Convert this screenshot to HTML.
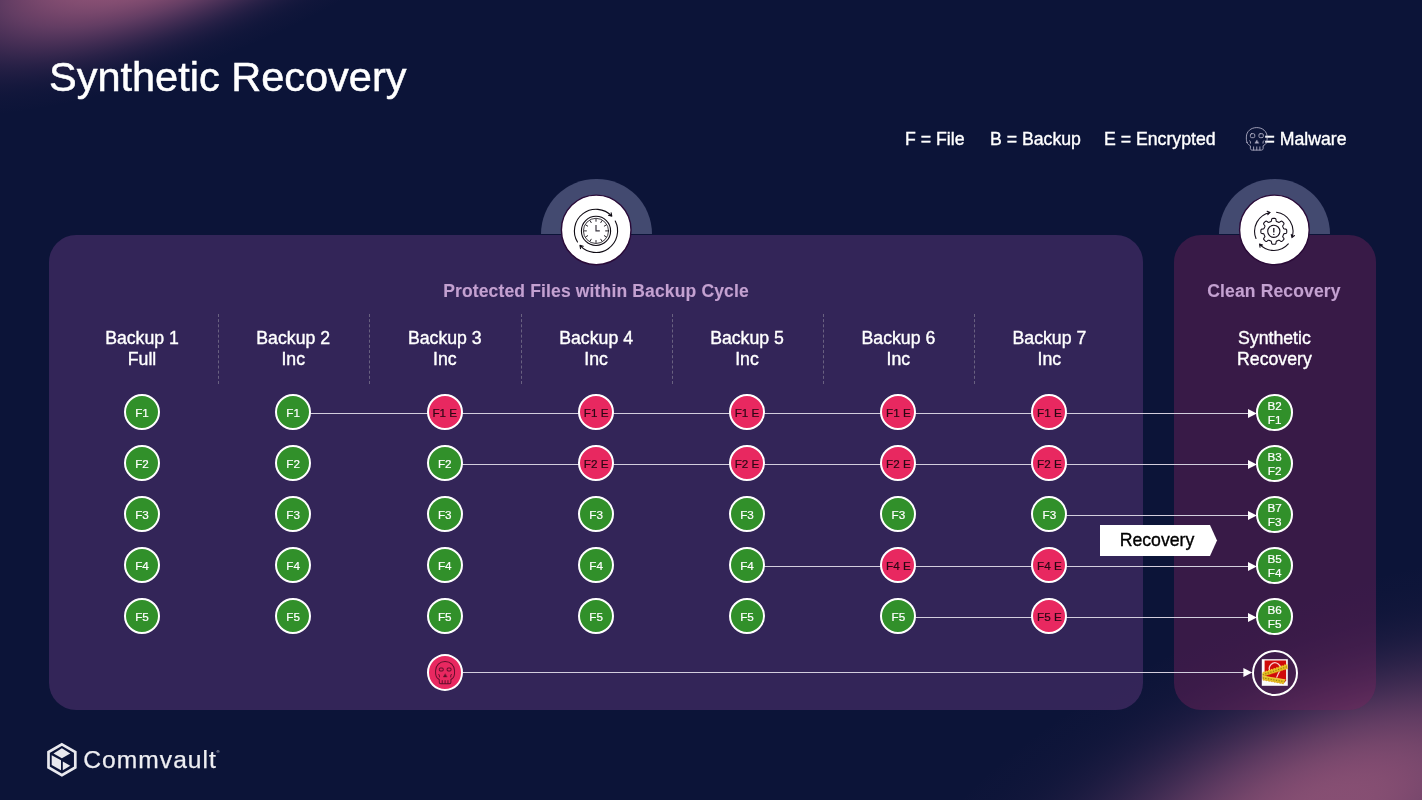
<!DOCTYPE html><html lang="en"><head><meta charset="utf-8"><title>Synthetic Recovery</title><style>
*{box-sizing:border-box;margin:0;padding:0}
html,body{width:1422px;height:800px;overflow:hidden}
body{position:relative;background:#0c1438;-webkit-text-stroke:.38px currentColor;font-family:"Liberation Sans",sans-serif;color:#fff}
.abs{position:absolute}
.glow{position:absolute;border-radius:50%;pointer-events:none}
#g1{left:-188.8px;top:-189.4px;width:732.8px;height:254.1px;transform:rotate(-21.5deg);background:radial-gradient(closest-side,rgba(137,80,116,1.000) 0.0%,rgba(137,80,116,1.000) 4.2%,rgba(137,80,116,1.000) 8.3%,rgba(137,80,116,1.000) 12.5%,rgba(137,80,116,1.000) 16.7%,rgba(137,80,116,1.000) 20.8%,rgba(137,80,116,1.000) 25.0%,rgba(137,80,116,1.000) 29.2%,rgba(137,80,116,1.000) 33.3%,rgba(137,80,116,0.943) 37.5%,rgba(136,79,116,0.874) 41.7%,rgba(136,78,116,0.794) 45.8%,rgba(135,78,117,0.704) 50.0%,rgba(134,77,117,0.608) 54.2%,rgba(134,76,117,0.510) 58.3%,rgba(133,75,117,0.414) 62.5%,rgba(132,75,117,0.324) 66.7%,rgba(132,74,118,0.244) 70.8%,rgba(131,73,118,0.176) 75.0%,rgba(131,73,118,0.121) 79.2%,rgba(131,73,118,0.079) 83.3%,rgba(130,72,118,0.049) 87.5%,rgba(130,72,118,0.029) 91.7%,rgba(130,72,118,0.016) 95.8%,rgba(130,72,118,0.000) 100.0%)}
#g2{left:852.5px;top:602.4px;width:953.8px;height:411.9px;transform:rotate(-21.5deg);background:radial-gradient(closest-side,rgba(137,80,116,0.984) 0.0%,rgba(137,80,116,0.982) 4.2%,rgba(137,80,116,0.975) 8.3%,rgba(137,80,116,0.958) 12.5%,rgba(137,79,116,0.931) 16.7%,rgba(136,79,116,0.894) 20.8%,rgba(136,79,116,0.845) 25.0%,rgba(135,78,116,0.786) 29.2%,rgba(135,78,117,0.718) 33.3%,rgba(135,77,117,0.643) 37.5%,rgba(134,77,117,0.565) 41.7%,rgba(133,76,117,0.486) 45.8%,rgba(133,75,117,0.409) 50.0%,rgba(132,75,117,0.336) 54.2%,rgba(132,74,117,0.269) 58.3%,rgba(131,74,118,0.210) 62.5%,rgba(131,73,118,0.160) 66.7%,rgba(131,73,118,0.118) 70.8%,rgba(131,73,118,0.085) 75.0%,rgba(130,72,118,0.060) 79.2%,rgba(130,72,118,0.040) 83.3%,rgba(130,72,118,0.027) 87.5%,rgba(130,72,118,0.017) 91.7%,rgba(130,72,118,0.010) 95.8%,rgba(130,72,118,0.000) 100.0%)}
h1{position:absolute;left:49px;top:52.5px;-webkit-text-stroke:.5px #fff;font-size:41.5px;font-weight:400;line-height:48px;white-space:nowrap;letter-spacing:0}
  .legend{position:absolute;top:129px;font-size:17.7px;line-height:20px;white-space:nowrap}
.panel{position:absolute;top:234.5px;height:475px;border-radius:27px}
#p1{left:48.6px;width:1094.7px;background:rgba(90,54,120,.5)}
#p2{left:1173.7px;width:202.5px;background:rgba(122,35,94,.4)}
.half{position:absolute;top:178.8px;width:111px;height:55.7px;border-radius:55.5px 55.5px 0 0;background:#434a70}
.ico{position:absolute;top:194.4px;width:71px;height:71px;border-radius:50%;background:#fff;border:1.3px solid #2e0c3c}
.ptitle{position:absolute;top:281px;font-size:17.5px;line-height:20px;font-weight:700;color:#c4a1d1;-webkit-text-stroke:.1px currentColor;text-align:center;white-space:nowrap;letter-spacing:.15px}
.hd{position:absolute;top:328px;width:150px;text-align:center;font-size:17.7px;line-height:21.3px;white-space:nowrap}
.dv{position:absolute;top:314px;height:70px;width:0;border-left:1px dashed #696180}
.c{position:absolute;width:36px;height:36px;border-radius:50%;border:2px solid #fff;font-size:11.7px;line-height:34.8px;text-align:center;white-space:nowrap;-webkit-text-stroke:.2px currentColor}
.g{background:#31902a;color:#fff}
.r{background:#e82860;color:#2b0714}
.s{line-height:13.8px;padding-top:2.5px;width:36.6px;height:36.6px}
svg{position:absolute;left:0;top:0}
</style></head><body>
<div class="glow" id="g1"></div><div class="glow" id="g2"></div>
<h1>Synthetic Recovery</h1>
<div class="legend" style="left:905px">F = File</div>
<div class="legend" style="left:990px">B = Backup</div>
<div class="legend" style="left:1104px">E = Encrypted</div>
<div class="legend" style="left:1264.5px">= Malware</div>
<div class="half" style="left:540.7px"></div><div class="half" style="left:1218.7px"></div>
<div class="panel" id="p1"></div><div class="panel" id="p2"></div>
<div class="ptitle" style="left:396px;width:400px">Protected Files within Backup Cycle</div>
<div class="ptitle" style="left:1174px;width:200px">Clean Recovery</div>
<div class="hd" style="left:67.0px">Backup 1<br>Full</div>
<div class="hd" style="left:218.2px">Backup 2<br>Inc</div>
<div class="hd" style="left:369.8px">Backup 3<br>Inc</div>
<div class="hd" style="left:521.1px">Backup 4<br>Inc</div>
<div class="hd" style="left:672.0px">Backup 5<br>Inc</div>
<div class="hd" style="left:823.4px">Backup 6<br>Inc</div>
<div class="hd" style="left:974.4px">Backup 7<br>Inc</div>
<div class="hd" style="left:1199.4px">Synthetic<br>Recovery</div>
<div class="dv" style="left:218.0px"></div>
<div class="dv" style="left:369.4px"></div>
<div class="dv" style="left:520.9px"></div>
<div class="dv" style="left:671.9px"></div>
<div class="dv" style="left:823.1px"></div>
<div class="dv" style="left:974.3px"></div>
<svg width="1422" height="800" viewBox="0 0 1422 800"><path d="M310.2 413.5H1249" stroke="#d3cedd" stroke-width="1" fill="none"/><path d="M1248 409.0L1256.8 413.5L1248 418.0Z" fill="#fff"/><path d="M461.8 464.5H1249" stroke="#d3cedd" stroke-width="1" fill="none"/><path d="M1248 460.0L1256.8 464.5L1248 469.0Z" fill="#fff"/><path d="M1066.4 515.5H1249" stroke="#d3cedd" stroke-width="1" fill="none"/><path d="M1248 511.0L1256.8 515.5L1248 520.0Z" fill="#fff"/><path d="M764.0 566.5H1249" stroke="#d3cedd" stroke-width="1" fill="none"/><path d="M1248 562.0L1256.8 566.5L1248 571.0Z" fill="#fff"/><path d="M915.4 617.5H1249" stroke="#d3cedd" stroke-width="1" fill="none"/><path d="M1248 613.0L1256.8 617.5L1248 622.0Z" fill="#fff"/><path d="M461.8 672.5H1245" stroke="#d3cedd" stroke-width="1" fill="none"/><path d="M1243.4 668.0L1252.2 672.5L1243.4 677.0Z" fill="#fff"/></svg>
<div class="c g" style="left:124.0px;top:394.3px">F1</div>
<div class="c g" style="left:124.0px;top:445.3px">F2</div>
<div class="c g" style="left:124.0px;top:496.4px">F3</div>
<div class="c g" style="left:124.0px;top:547.3px">F4</div>
<div class="c g" style="left:124.0px;top:598.3px">F5</div>
<div class="c g" style="left:275.2px;top:394.3px">F1</div>
<div class="c g" style="left:275.2px;top:445.3px">F2</div>
<div class="c g" style="left:275.2px;top:496.4px">F3</div>
<div class="c g" style="left:275.2px;top:547.3px">F4</div>
<div class="c g" style="left:275.2px;top:598.3px">F5</div>
<div class="c r" style="left:426.8px;top:394.3px">F1 E</div>
<div class="c g" style="left:426.8px;top:445.3px">F2</div>
<div class="c g" style="left:426.8px;top:496.4px">F3</div>
<div class="c g" style="left:426.8px;top:547.3px">F4</div>
<div class="c g" style="left:426.8px;top:598.3px">F5</div>
<div class="c r" style="left:578.1px;top:394.3px">F1 E</div>
<div class="c r" style="left:578.1px;top:445.3px">F2 E</div>
<div class="c g" style="left:578.1px;top:496.4px">F3</div>
<div class="c g" style="left:578.1px;top:547.3px">F4</div>
<div class="c g" style="left:578.1px;top:598.3px">F5</div>
<div class="c r" style="left:729.0px;top:394.3px">F1 E</div>
<div class="c r" style="left:729.0px;top:445.3px">F2 E</div>
<div class="c g" style="left:729.0px;top:496.4px">F3</div>
<div class="c g" style="left:729.0px;top:547.3px">F4</div>
<div class="c g" style="left:729.0px;top:598.3px">F5</div>
<div class="c r" style="left:880.4px;top:394.3px">F1 E</div>
<div class="c r" style="left:880.4px;top:445.3px">F2 E</div>
<div class="c g" style="left:880.4px;top:496.4px">F3</div>
<div class="c r" style="left:880.4px;top:547.3px">F4 E</div>
<div class="c g" style="left:880.4px;top:598.3px">F5</div>
<div class="c r" style="left:1031.4px;top:394.3px">F1 E</div>
<div class="c r" style="left:1031.4px;top:445.3px">F2 E</div>
<div class="c g" style="left:1031.4px;top:496.4px">F3</div>
<div class="c r" style="left:1031.4px;top:547.3px">F4 E</div>
<div class="c r" style="left:1031.4px;top:598.3px">F5 E</div>
<div class="c g s" style="left:1256.4px;top:394.3px">B2<br>F1</div>
<div class="c g s" style="left:1256.4px;top:445.3px">B3<br>F2</div>
<div class="c g s" style="left:1256.4px;top:496.4px">B7<br>F3</div>
<div class="c g s" style="left:1256.4px;top:547.3px">B5<br>F4</div>
<div class="c g s" style="left:1256.4px;top:598.3px">B6<br>F5</div>
<div class="c r" style="left:426.8px;top:654.0px;width:36.4px;height:37px"></div>
<div class="abs" style="left:1252px;top:650px;width:46px;height:46px;border-radius:50%;border:2px solid #fff"></div>
<svg width="1422" height="800" viewBox="0 0 1422 800"><circle cx="596.2" cy="229.9" r="34.8" fill="#fff" stroke="#2a0a38" stroke-width="1.4"/><circle cx="1274.4" cy="229.9" r="34.8" fill="#fff" stroke="#2a0a38" stroke-width="1.4"/><g fill="none" stroke="#0e0a12" stroke-width="1.1" stroke-linecap="round" stroke-linejoin="round"><path d="M577.49 242.02A21.6 21.6 0 0 1 611.80 216.17M611.15 212.83L611.80 216.17L608.51 215.29M615.25 221.09A21.6 21.6 0 0 1 579.95 245.35M580.54 248.70L579.95 245.35L583.22 246.29"/><circle cx="596.0" cy="230.9" r="14.6"/><circle cx="596.0" cy="230.9" r="12.6" stroke-width="0.8"/><path d="M605.60 230.90L607.60 230.90M604.31 235.70L606.05 236.70M600.80 239.21L601.80 240.95M596.00 240.50L596.00 242.50M591.20 239.21L590.20 240.95M587.69 235.70L585.95 236.70M586.40 230.90L584.40 230.90M587.69 226.10L585.95 225.10M591.20 222.59L590.20 220.85M596.00 221.30L596.00 219.30M600.80 222.59L601.80 220.85M604.31 226.10L606.05 225.10" stroke-width="0.9"/><path d="M596.0 224.9V230.9H599.8" stroke="#3a3640" stroke-width="1.2" stroke-linecap="butt" stroke-linejoin="miter"/></g><g fill="none" stroke="#16101c" stroke-width="1.1" stroke-linecap="round" stroke-linejoin="round"><path d="M1256.00 238.49A19.2 19.2 0 0 1 1270.14 212.45M1267.15 211.31L1270.14 212.45L1267.80 214.64M1276.47 212.29A19.2 19.2 0 0 1 1291.95 237.55M1294.44 235.54L1291.95 237.55L1291.23 234.43M1288.29 243.90A19.2 19.2 0 0 1 1259.53 244.15M1260.09 247.30L1259.53 244.15L1262.61 245.03"/><path d="M1286.75 231.30L1286.74 231.64L1286.73 231.98L1286.70 232.31L1286.64 232.65L1286.51 232.97L1286.22 233.27L1285.58 233.48L1284.68 233.61L1284.03 233.76L1283.73 233.96L1283.57 234.19L1283.47 234.44L1283.37 234.69L1283.28 234.94L1283.18 235.18L1283.07 235.43L1282.97 235.67L1282.86 235.91L1282.76 236.16L1282.70 236.44L1282.77 236.80L1283.13 237.36L1283.67 238.08L1283.97 238.69L1283.97 239.11L1283.83 239.42L1283.64 239.70L1283.42 239.96L1283.19 240.21L1282.96 240.46L1282.71 240.69L1282.46 240.92L1282.20 241.14L1281.92 241.33L1281.61 241.47L1281.19 241.47L1280.58 241.17L1279.86 240.63L1279.30 240.27L1278.94 240.20L1278.66 240.26L1278.41 240.36L1278.17 240.47L1277.93 240.57L1277.68 240.68L1277.44 240.78L1277.19 240.87L1276.94 240.97L1276.69 241.07L1276.46 241.23L1276.26 241.53L1276.11 242.18L1275.98 243.08L1275.77 243.72L1275.47 244.01L1275.15 244.14L1274.81 244.20L1274.48 244.23L1274.14 244.24L1273.80 244.25L1273.46 244.24L1273.12 244.23L1272.79 244.20L1272.45 244.14L1272.13 244.01L1271.83 243.72L1271.62 243.08L1271.49 242.18L1271.34 241.53L1271.14 241.23L1270.91 241.07L1270.66 240.97L1270.41 240.87L1270.16 240.78L1269.92 240.68L1269.67 240.57L1269.43 240.47L1269.19 240.36L1268.94 240.26L1268.66 240.20L1268.30 240.27L1267.74 240.63L1267.02 241.17L1266.41 241.47L1265.99 241.47L1265.68 241.33L1265.40 241.14L1265.14 240.92L1264.89 240.69L1264.64 240.46L1264.41 240.21L1264.18 239.96L1263.96 239.70L1263.77 239.42L1263.63 239.11L1263.63 238.69L1263.93 238.08L1264.47 237.36L1264.83 236.80L1264.90 236.44L1264.84 236.16L1264.74 235.91L1264.63 235.67L1264.53 235.43L1264.42 235.18L1264.32 234.94L1264.23 234.69L1264.13 234.44L1264.03 234.19L1263.87 233.96L1263.57 233.76L1262.92 233.61L1262.02 233.48L1261.38 233.27L1261.09 232.97L1260.96 232.65L1260.90 232.31L1260.87 231.98L1260.86 231.64L1260.85 231.30L1260.86 230.96L1260.87 230.62L1260.90 230.29L1260.96 229.95L1261.09 229.63L1261.38 229.33L1262.02 229.12L1262.92 228.99L1263.57 228.84L1263.87 228.64L1264.03 228.41L1264.13 228.16L1264.23 227.91L1264.32 227.66L1264.42 227.42L1264.53 227.17L1264.63 226.93L1264.74 226.69L1264.84 226.44L1264.90 226.16L1264.83 225.80L1264.47 225.24L1263.93 224.52L1263.63 223.91L1263.63 223.49L1263.77 223.18L1263.96 222.90L1264.18 222.64L1264.41 222.39L1264.64 222.14L1264.89 221.91L1265.14 221.68L1265.40 221.46L1265.68 221.27L1265.99 221.13L1266.41 221.13L1267.02 221.43L1267.74 221.97L1268.30 222.33L1268.66 222.40L1268.94 222.34L1269.19 222.24L1269.43 222.13L1269.67 222.03L1269.92 221.92L1270.16 221.82L1270.41 221.73L1270.66 221.63L1270.91 221.53L1271.14 221.37L1271.34 221.07L1271.49 220.42L1271.62 219.52L1271.83 218.88L1272.13 218.59L1272.45 218.46L1272.79 218.40L1273.12 218.37L1273.46 218.36L1273.80 218.35L1274.14 218.36L1274.48 218.37L1274.81 218.40L1275.15 218.46L1275.47 218.59L1275.77 218.88L1275.98 219.52L1276.11 220.42L1276.26 221.07L1276.46 221.37L1276.69 221.53L1276.94 221.63L1277.19 221.73L1277.44 221.82L1277.68 221.92L1277.93 222.03L1278.17 222.13L1278.41 222.24L1278.66 222.34L1278.94 222.40L1279.30 222.33L1279.86 221.97L1280.58 221.43L1281.19 221.13L1281.61 221.13L1281.92 221.27L1282.20 221.46L1282.46 221.68L1282.71 221.91L1282.96 222.14L1283.19 222.39L1283.42 222.64L1283.64 222.90L1283.83 223.18L1283.97 223.49L1283.97 223.91L1283.67 224.52L1283.13 225.24L1282.77 225.80L1282.70 226.16L1282.76 226.44L1282.86 226.69L1282.97 226.93L1283.07 227.17L1283.18 227.42L1283.28 227.66L1283.37 227.91L1283.47 228.16L1283.57 228.41L1283.73 228.64L1284.03 228.84L1284.68 228.99L1285.58 229.12L1286.22 229.33L1286.51 229.63L1286.64 229.95L1286.70 230.29L1286.73 230.62L1286.74 230.96Z"/><circle cx="1273.8" cy="231.3" r="6.1"/><path d="M1273.8 227.9V232.5" stroke-width="1.3" stroke-linecap="butt"/><circle cx="1273.8" cy="234.4" r="0.7" fill="#16101c" stroke="none"/></g><g transform="translate(1246.4 127.6) scale(0.95 0.95)" fill="none" stroke="#c9c6da" stroke-width="0.947" stroke-linejoin="round" stroke-linecap="round" opacity="0.85"><path d="M0.6 15.6C-0.3 13 0 11 0 9.8C0 4 4.8 0 10.9 0C17 0 21.8 4 21.8 9.8C21.8 11 22 13 21.2 15.6C20.6 17.6 18.5 18.6 17.6 19.2V22C17.6 23 16.8 23.7 15.8 23.7H6C5 23.7 4.2 23 4.2 22V19.2C3.3 18.6 1.2 17.6 0.6 15.6Z"/><rect x="4.2" y="6.4" width="4.6" height="4.2" rx="1.3"/><rect x="13.2" y="6.4" width="4.6" height="4.2" rx="1.3"/><path d="M10.9 13.3L8.9 16.4H12.9Z" fill="#c9c6da" stroke-width="0.421"/><path d="M7.6 20.3V23.5M10.9 20.3V23.5M14.2 20.3V23.5"/><path d="M3.6 13.8Q4.6 14.6 4.4 16.4M18.2 13.8Q17.2 14.6 17.4 16.4"/></g><g transform="translate(435.6 661.5) scale(0.87 0.94)" fill="none" stroke="#5e0e2a" stroke-width="1.092" stroke-linejoin="round" stroke-linecap="round" opacity="1"><path d="M0.6 15.6C-0.3 13 0 11 0 9.8C0 4 4.8 0 10.9 0C17 0 21.8 4 21.8 9.8C21.8 11 22 13 21.2 15.6C20.6 17.6 18.5 18.6 17.6 19.2V22C17.6 23 16.8 23.7 15.8 23.7H6C5 23.7 4.2 23 4.2 22V19.2C3.3 18.6 1.2 17.6 0.6 15.6Z"/><rect x="4.2" y="6.9" width="4.6" height="3.2" rx="1.3"/><rect x="13.2" y="6.9" width="4.6" height="3.2" rx="1.3"/><path d="M10.9 13.3L8.9 16.4H12.9Z" fill="#5e0e2a" stroke-width="0.460"/><path d="M7.6 20.3V23.5M10.9 20.3V23.5M14.2 20.3V23.5"/><path d="M3.6 13.8Q4.6 14.6 4.4 16.4M18.2 13.8Q17.2 14.6 17.4 16.4"/></g><g><rect x="1261.8" y="659.2" width="26" height="26.6" fill="#fbfbfb"/><path d="M1264.6 660.5H1286.1V680.4L1284.6 682.6L1279 682L1264.6 676Z" fill="#d00a0a"/><path d="M1270.4 671.6A5.5 5.5 0 1 1 1279.6 671.2C1278.4 673.4 1277.4 675.4 1276.6 677.6" fill="none" stroke="#ffdede" stroke-width="1.3" opacity=".92"/><path d="M1262.3 672.8L1287.4 664.3L1287.8 668.8L1262.7 676.6Z" fill="#e4be20"/><path d="M1262.3 675.6L1285.7 679.6L1283.5 683.9L1262.7 680Z" fill="#e4be20"/><path d="M1263 672.7L1287.2 664.5" stroke="#f0c828" stroke-width="1.6" stroke-dasharray="1.4 1.4" fill="none"/><path d="M1262.6 674.8L1287.5 666.6" stroke="#7d6c12" stroke-width="1.1" stroke-dasharray="1.2 1.5" fill="none" opacity=".8"/><path d="M1262.8 676.4L1287.6 668.8" stroke="#d98a14" stroke-width=".7" stroke-dasharray="1.6 1.2" fill="none" opacity=".9"/><path d="M1262.6 677.9L1284.6 681.7" stroke="#7d6c12" stroke-width="1.1" stroke-dasharray="1.2 1.5" fill="none" opacity=".8"/><path d="M1262.8 680L1283.6 683.8" stroke="#d98a14" stroke-width=".8" stroke-dasharray="1.5 1.3" fill="none" opacity=".9"/><path d="M1263 676.2L1285.4 679.8" stroke="#f6e070" stroke-width=".6" fill="none" opacity=".8"/></g><g><path d="M61.9 744.4L75.3 752.1V767.5L61.9 775.2L48.5 767.5V752.1Z" fill="none" stroke="#e9e9ee" stroke-width="2.7" stroke-linejoin="miter"/><path d="M61.9 748.3L70.3 753.4L61.9 758.2L53.5 753.4Z" fill="#e9e9ee"/><path d="M51.7 755.2L61 760.3V770.2L51.7 765.1Z" fill="#e9e9ee"/><path d="M62.8 761.5L70.3 765.7L62.8 770.2Z" fill="#e9e9ee"/></g></svg>
<svg width="1422" height="800" viewBox="0 0 1422 800"><path d="M1100 525H1210L1217 540.5L1210 556H1100Z" fill="#fff"/><text x="1157" y="546.2" font-size="17.7" text-anchor="middle" fill="#000" stroke="#000" stroke-width=".35" font-family="Liberation Sans, sans-serif">Recovery</text></svg>
<div class="abs" id="logo" style="left:83.2px;top:744.6px;font-size:24.6px;line-height:30px;color:#eeeef2;letter-spacing:1.05px;-webkit-text-stroke:.25px #eeeef2">Commvault<span style="font-size:4.2px;position:absolute;left:133.3px;top:-7.6px;letter-spacing:0;-webkit-text-stroke:0">®</span></div>
</body></html>
